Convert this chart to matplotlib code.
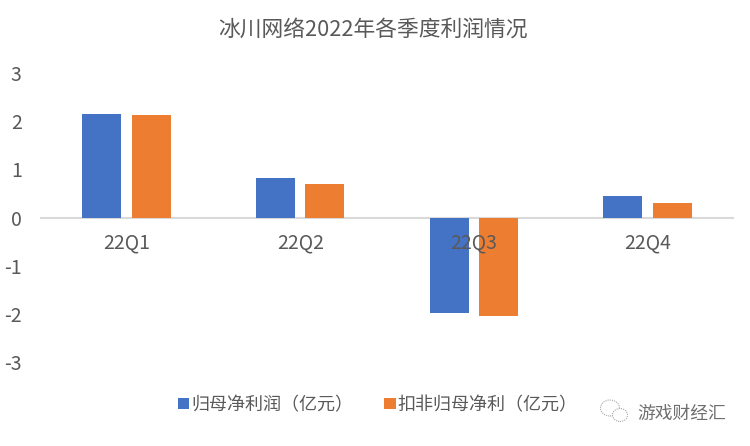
import matplotlib
matplotlib.use("Agg")
import numpy as np
import matplotlib.pyplot as plt
from matplotlib.patches import Ellipse

plt.rcParams["font.family"] = ["Noto Sans CJK SC", "DejaVu Sans"]

# data
quarters = ["22Q1", "22Q2", "22Q3", "22Q4"]
net_profit = [2.15, 0.82, -1.98, 0.45]
adj_profit = [2.13, 0.70, -2.05, 0.305]
y_ticks = [-3, -2, -1, 0, 1, 2, 3]

W, H = 750, 446
fig = plt.figure(figsize=(W / 100, H / 100), dpi=100)
fig.patch.set_facecolor("white")

ax = fig.add_axes([39.7 / W, 1 - 362.3 / H, 694.7 / W, 289.3 / H])
x = np.arange(len(quarters))
w = 0.225
ax.bar(x - 0.142, net_profit, w, color="#4472C4", label="归母净利润（亿元）", zorder=2)
ax.bar(x + 0.142, adj_profit, w, color="#ED7D31", label="扣非归母净利（亿元）", zorder=2)

ax.set_xlim(-0.5, 3.5)
ax.set_ylim(-3, 3)
ax.set_yticks(y_ticks)
ax.set_yticklabels([str(v) for v in y_ticks], fontsize=14, color="#595959")
ax.set_xticks([])
ax.tick_params(axis="y", length=0, pad=13)
for s in ["top", "right", "left", "bottom"]:
    ax.spines[s].set_visible(False)
ax.axhline(0, color="#D9D9D9", linewidth=1.5, zorder=1)

for i, q in enumerate(quarters):
    ax.text(i, -0.525, q, ha="center", va="center", fontsize=14, color="#595959", zorder=3)

fig.text(373 / W, 1 - 30 / H, "冰川网络2022年各季度利润情况", ha="center", va="center",
         fontsize=15.7, color="#595959")

leg = ax.legend(loc="center", bbox_to_anchor=(377.7 / W, 1 - 405 / H), bbox_transform=fig.transFigure,
                ncol=2, frameon=False, fontsize=13, handlelength=0.62, handleheight=0.62,
                handletextpad=0.08, columnspacing=1.75, labelcolor="#595959")

# watermark: wechat icon and account name
for cx, cy, rx, ry in [(610, 408, 9.5, 8), (620, 415, 7.5, 6.5)]:
    fig.add_artist(Ellipse((cx / W, 1 - cy / H), 2 * rx / W, 2 * ry / H, transform=fig.transFigure,
                           facecolor="white", edgecolor="#A6A6A6", linewidth=0.8, linestyle=(0, (1, 1))))
fig.text(726 / W, 1 - 414 / H, "游戏财经汇", ha="right", va="center", fontsize=12.8,
         color="#6E6E6E")

plt.savefig("out.png", dpi=100)
